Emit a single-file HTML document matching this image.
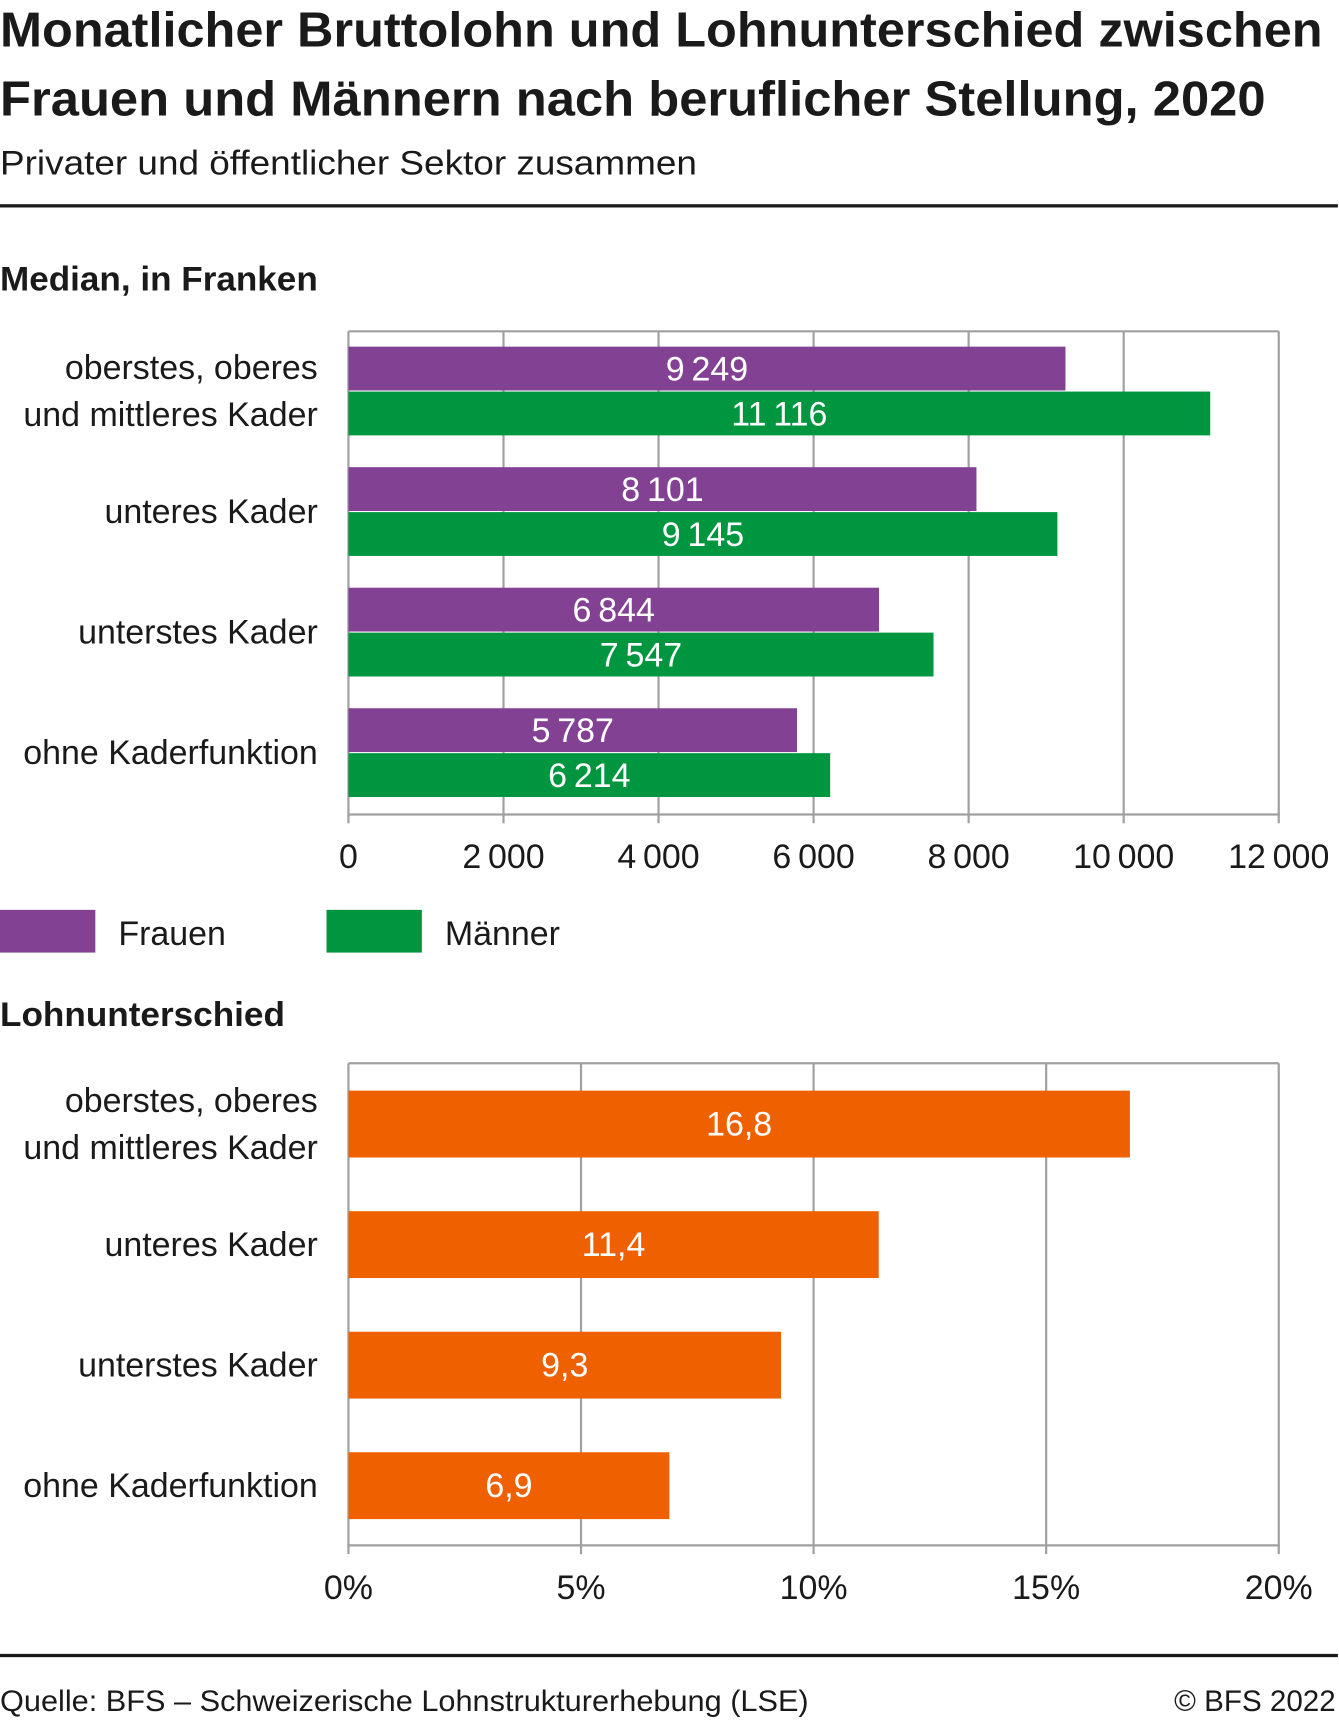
<!DOCTYPE html>
<html><head><meta charset="utf-8"><style>
html,body{margin:0;padding:0;background:#fff}
svg{display:block;font-family:"Liberation Sans",sans-serif}
</style></head><body>
<svg id="c" width="1339" height="1720" viewBox="0 0 1222 1569">
<text x="0" y="42" font-size="45" font-weight="bold" fill="#1a1a1a" textLength="1207" lengthAdjust="spacingAndGlyphs">Monatlicher Bruttolohn und Lohnunterschied zwischen</text>
<text x="0" y="105" font-size="45" font-weight="bold" fill="#1a1a1a" textLength="1155" lengthAdjust="spacingAndGlyphs">Frauen und Männern nach beruflicher Stellung, 2020</text>
<text x="0" y="159" font-size="31" fill="#1a1a1a" textLength="636" lengthAdjust="spacingAndGlyphs">Privater und öffentlicher Sektor zusammen</text>
<rect x="0" y="186" width="1221" height="3" fill="#1a1a1a"/>
<text x="0" y="265" font-size="31" font-weight="bold" fill="#1a1a1a" textLength="290" lengthAdjust="spacingAndGlyphs">Median, in Franken</text>
<text x="0" y="936" font-size="31" font-weight="bold" fill="#1a1a1a" textLength="260" lengthAdjust="spacingAndGlyphs">Lohnunterschied</text>
<g id="top"></g>
<g id="bot"></g>
<rect x="0" y="830" width="87" height="39" fill="#834194"/>
<text x="108" y="862" font-size="31" fill="#1a1a1a">Frauen</text>
<rect x="298" y="830" width="87" height="39" fill="#009640"/>
<text x="406" y="862" font-size="31" fill="#1a1a1a">Männer</text>
<rect x="0" y="1509" width="1221" height="3" fill="#1a1a1a"/>
<text x="0" y="1561" font-size="27" fill="#1a1a1a" textLength="738" lengthAdjust="spacingAndGlyphs">Quelle: BFS – Schweizerische Lohnstrukturerhebung (LSE)</text>
<text x="1219" y="1561" font-size="27" fill="#1a1a1a" text-anchor="end">© BFS 2022</text>
</svg>
<script>
const categories=[["oberstes, oberes","und mittleres Kader"],["unteres Kader"],["unterstes Kader"],["ohne Kaderfunktion"]];
const frauen=[9249,8101,6844,5787];
const maenner=[11116,9145,7547,6214];
const gap=[16.8,11.4,9.3,6.9];
const topTicks=[0,2000,4000,6000,8000,10000,12000];
const botTicks=[0,5,10,15,20];
const NS="http://www.w3.org/2000/svg";
function mk(p,tag,a,txt){const e=document.createElementNS(NS,tag);for(const k in a)e.setAttribute(k,a[k]);if(txt!=null)e.textContent=txt;p.appendChild(e);return e;}
function fmt(v){return String(v).replace(/\B(?=(\d{3})+(?!\d))/g,"\u2009");}
const X0=318,X1=1167;
function xTop(v){return X0+(v/12000)*(X1-X0);}
function xBot(v){return X0+(v/20)*(X1-X0);}
function frame(g,top,bot,ticks,xf,lab,nm){
  ticks.forEach(t=>{const l=mk(g,"line",{x1:xf(t),x2:xf(t),y1:top,y2:bot+8,stroke:"#a0a0a0","stroke-width":2});
  
  
  const tx=mk(g,"text",{x:xf(t),y:bot+49,"font-size":31,"text-anchor":"middle",fill:"#1a1a1a"},lab(t));
  
  });
  const f=mk(g,"line",{x1:X0,x2:X1,y1:top,y2:top,stroke:"#a0a0a0","stroke-width":2});
  
  
  const b=mk(g,"line",{x1:X0-1,x2:X1+1,y1:bot,y2:bot,stroke:"#a0a0a0","stroke-width":2});
  
  
}
function catLabel(g,lines,cy,nm){
  const n=lines.length;
  lines.forEach((s,j)=>{const t=mk(g,"text",{x:290,y:cy+11+(j-(n-1)/2)*43,"font-size":31,"text-anchor":"end",fill:"#1a1a1a"},s);
  
  });
}
const gt=document.getElementById("top");
frame(gt,302,743,topTicks,xTop,fmt,"median");
categories.forEach((c,i)=>{
  const cy=356+i*110;
  catLabel(gt,c,cy,"median-category-label");
  const r1=mk(gt,"rect",{x:X0,y:cy-40,width:xTop(frauen[i])-X0,height:40,fill:"#834194"});
  
  
  const t1=mk(gt,"text",{x:(X0+xTop(frauen[i]))/2,y:cy-9,"font-size":31,"text-anchor":"middle",fill:"#fff"},fmt(frauen[i]));
  
  
  const r2=mk(gt,"rect",{x:X0,y:cy+1,width:xTop(maenner[i])-X0,height:40,fill:"#009640"});
  
  
  const t2=mk(gt,"text",{x:(X0+xTop(maenner[i]))/2,y:cy+32,"font-size":31,"text-anchor":"middle",fill:"#fff"},fmt(maenner[i]));
  
  
});
const gb=document.getElementById("bot");
frame(gb,970,1410,botTicks,xBot,t=>t+"%","gap");
categories.forEach((c,i)=>{
  const cy=1025+i*110;
  catLabel(gb,c,cy,"gap-category-label");
  const r=mk(gb,"rect",{x:X0,y:cy-30,width:xBot(gap[i])-X0,height:61,fill:"#ef6100"});
  
  
  const t=mk(gb,"text",{x:(X0+xBot(gap[i]))/2,y:cy+11,"font-size":31,"text-anchor":"middle",fill:"#fff"},String(gap[i]).replace(".",","));
  
  
});
</script>
</body></html>
